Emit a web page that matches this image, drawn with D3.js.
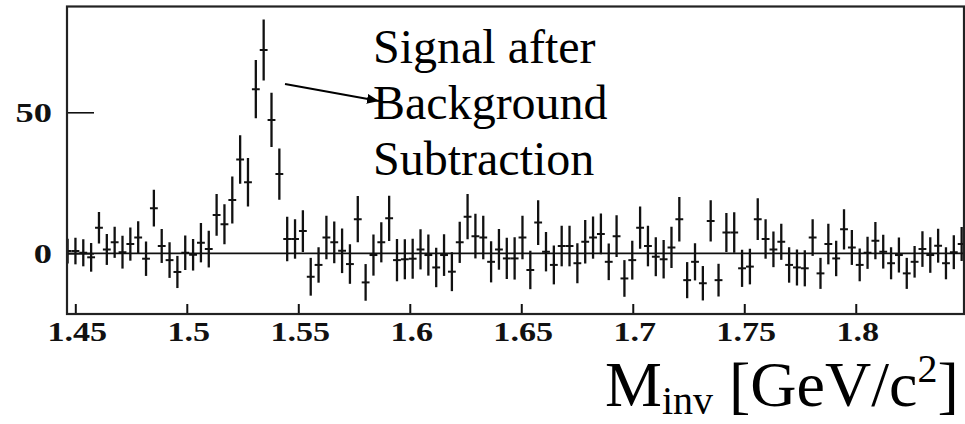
<!DOCTYPE html>
<html>
<head>
<meta charset="utf-8">
<script src="https://cdn.jsdelivr.net/npm/d3@7"></script>
<style>
  html, body { margin: 0; padding: 0; background: #fff; }
  svg { display: block; }
</style>
</head>
<body>
<svg id="chart" width="965" height="424"></svg>
<script>
// Invariant-mass histogram after background subtraction (entries per bin with ±1σ errors)
const binStart = 1.44655;   // centre of the first bin [GeV/c²]
const binWidth = 0.003517;  // bin width [GeV/c²]

const counts = [
  0.8, 0.8, 0.2, -1.4, 9.1, 1.4, 3.9, 0.4, 3.3, 5.6,
  -1.9, 16.0, 2.6, -2.4, -6.6, 0.2, -0.5, 3.8, 1.5, 13.6,
  10.3, 18.9, 33.3, 25.2, 58.2, 72.1, 47.3, 28.1, 5.1, 5.1,
  7.9, -8.3, -4.1, 5.6, 3.9, 0.9, -3.8, 12.1, -10.3, -0.6,
  3.9, 12.4, -2.4, -2.1, -1.9, 1.4, -0.6, -5.0, -0.6, -6.5,
  3.9, 13.0, 6.1, 5.6, -3.0, 1.4, -1.8, -1.8, 5.6, -5.9,
  10.9, 0.6, -4.1, 2.6, 2.6, -3.5, 4.1, 5.6, 6.9, -3.0,
  6.1, -8.9, -2.4, 9.1, 2.6, -1.2, -2.1, 2.1, 12.1, -9.5,
  -3.0, -10.6, 11.5, -9.5, 7.4, 7.4, -5.3, -4.7, 12.1, 5.1,
  1.4, 4.1, -4.1, -5.0, -5.3, 5.6, -7.1, 3.3, -1.8, 8.5,
  2.1, -4.1, 0.2, 4.5, 0.6, -3.5, -0.6, -7.1, -3.0, 1.5,
  -0.6, 2.7, -3.5, 0.4, 3.3
];

const errors = [
  4.4, 4.7, 4.8, 5.1, 5.6, 5.5, 5.5, 5.8, 5.9, 5.8,
  6.1, 6.5, 6.0, 6.3, 5.7, 6.1, 5.6, 7.0, 6.5, 7.4,
  7.1, 8.3, 8.6, 8.6, 10.3, 10.8, 9.6, 9.1, 7.9, 7.0,
  7.4, 6.7, 6.3, 7.7, 7.4, 7.9, 7.0, 8.2, 6.5, 7.3,
  7.1, 8.0, 7.5, 7.1, 7.1, 7.1, 7.3, 7.0, 7.4, 6.9,
  7.3, 8.0, 7.9, 7.7, 7.3, 7.2, 7.3, 7.5, 7.7, 6.8,
  7.9, 7.0, 6.9, 7.2, 7.2, 7.1, 7.7, 7.5, 7.2, 6.5,
  7.4, 6.5, 6.9, 7.5, 7.2, 6.9, 6.8, 7.3, 7.9, 6.4,
  6.6, 6.1, 7.3, 5.8, 6.9, 7.2, 6.6, 6.3, 7.4, 7.0,
  6.3, 6.4, 6.3, 6.4, 6.4, 6.5, 5.5, 7.2, 6.3, 7.1,
  6.2, 5.8, 5.7, 6.6, 6.0, 5.7, 6.2, 5.5, 5.6, 6.3,
  6.3, 6.0, 5.7, 6.0, 6.0
];

const xTicks = [1.45, 1.5, 1.55, 1.6, 1.65, 1.7, 1.75, 1.8];
const xTickLabels = ["1.45", "1.5", "1.55", "1.6", "1.65", "1.7", "1.75", "1.8"];
const yTicks = [0, 50];
const yTickLabels = ["0", "50"];
const noteLines = ["Signal after", "Background", "Subtraction"];

const bins = counts.map((v, i) => ({
  m: binStart + i * binWidth,
  v: v,
  e: errors[i]
}));

const frame = { left: 67, right: 964, top: 6.5, bottom: 314 };

const x = d3.scaleLinear().domain([1.44628, 1.84854]).range([frame.left, frame.right]);
const y = d3.scaleLinear().domain([-21.5, 87.5]).range([frame.bottom, frame.top]);

const svg = d3.select("#chart");
const ink = "#111";
const serif = "'Liberation Serif', 'Times New Roman', Times, serif";

svg.append("defs").append("clipPath").attr("id", "plotArea")
  .append("rect")
  .attr("x", frame.left).attr("y", frame.top)
  .attr("width", frame.right - frame.left)
  .attr("height", frame.bottom - frame.top);

// zero baseline
svg.append("line")
  .attr("x1", frame.left).attr("x2", frame.right)
  .attr("y1", y(0)).attr("y2", y(0))
  .attr("stroke", ink).attr("stroke-width", 1.6);

// error-bar markers
const pts = svg.append("g").attr("clip-path", "url(#plotArea)");
const half = (x(binStart + binWidth) - x(binStart)) / 2;
pts.selectAll("line.err").data(bins).join("line")
  .attr("class", "err")
  .attr("x1", d => x(d.m)).attr("x2", d => x(d.m))
  .attr("y1", d => y(d.v + d.e)).attr("y2", d => y(d.v - d.e))
  .attr("stroke", ink).attr("stroke-width", 2.3);
pts.selectAll("line.bin").data(bins).join("line")
  .attr("class", "bin")
  .attr("x1", d => x(d.m) - half).attr("x2", d => x(d.m) + half)
  .attr("y1", d => y(d.v)).attr("y2", d => y(d.v))
  .attr("stroke", ink).attr("stroke-width", 2);

// axis ticks drawn inward from the frame
const xAxis = d3.axisBottom(x).tickValues(xTicks).tickSize(-10).tickFormat("");
svg.append("g").attr("transform", `translate(0,${frame.bottom})`).call(xAxis)
  .call(g => g.select(".domain").remove())
  .call(g => g.selectAll(".tick line").attr("stroke", ink).attr("stroke-width", 2));

const yAxis = d3.axisLeft(y).tickValues(yTicks).tickSize(-27).tickFormat("");
svg.append("g").attr("transform", `translate(${frame.left},0)`).call(yAxis)
  .call(g => g.select(".domain").remove())
  .call(g => g.selectAll(".tick line").attr("stroke", ink).attr("stroke-width", 1.6));

// frame
svg.append("rect")
  .attr("x", frame.left).attr("y", frame.top)
  .attr("width", frame.right - frame.left)
  .attr("height", frame.bottom - frame.top)
  .attr("fill", "none").attr("stroke", "#222").attr("stroke-width", 2.2);

// widened bold tick labels
function stretch(sel, k) {
  sel.each(function () {
    const w = this.getComputedTextLength();
    d3.select(this).attr("textLength", w * k).attr("lengthAdjust", "spacingAndGlyphs");
  });
}

svg.append("g").selectAll("text").data(xTicks).join("text")
  .attr("x", d => x(d) + 2).attr("y", 341)
  .attr("text-anchor", "middle")
  .attr("font-family", serif).attr("font-weight", "bold").attr("font-size", 28)
  .attr("fill", ink)
  .text((d, i) => xTickLabels[i])
  .call(stretch, 1.22);

svg.append("g").selectAll("text").data(yTicks).join("text")
  .attr("x", 52).attr("y", d => y(d) + 9.5)
  .attr("text-anchor", "end")
  .attr("font-family", serif).attr("font-weight", "bold").attr("font-size", 28)
  .attr("fill", ink)
  .text((d, i) => yTickLabels[i])
  .call(stretch, 1.3);

// annotation
svg.append("g").selectAll("text").data(noteLines).join("text")
  .attr("x", 373).attr("y", (d, i) => 63 + i * 56)
  .attr("font-family", serif).attr("font-size", 48)
  .attr("fill", "#000")
  .text(d => d);

svg.append("defs").append("marker")
  .attr("id", "head").attr("viewBox", "0 0 12 10")
  .attr("refX", 12).attr("refY", 5)
  .attr("markerWidth", 12).attr("markerHeight", 10)
  .attr("markerUnits", "userSpaceOnUse")
  .attr("orient", "auto")
  .append("path").attr("d", "M0,0 L12,5 L0,10 Z").attr("fill", "#000");

svg.append("line")
  .attr("x1", 285).attr("y1", 84).attr("x2", 379).attr("y2", 101)
  .attr("stroke", "#000").attr("stroke-width", 2)
  .attr("marker-end", "url(#head)");

// axis title
const title = svg.append("text")
  .attr("x", 605).attr("y", 406)
  .attr("font-family", serif).attr("font-size", 64)
  .attr("fill", "#000");
title.append("tspan").text("M");
title.append("tspan").attr("font-size", 40).attr("dy", 8).text("inv");
title.append("tspan").attr("dy", -8).text(" [GeV/c");
title.append("tspan").attr("font-size", 40).attr("dy", -24).text("2");
title.append("tspan").attr("dy", 24).text("]");
</script>
</body>
</html>
